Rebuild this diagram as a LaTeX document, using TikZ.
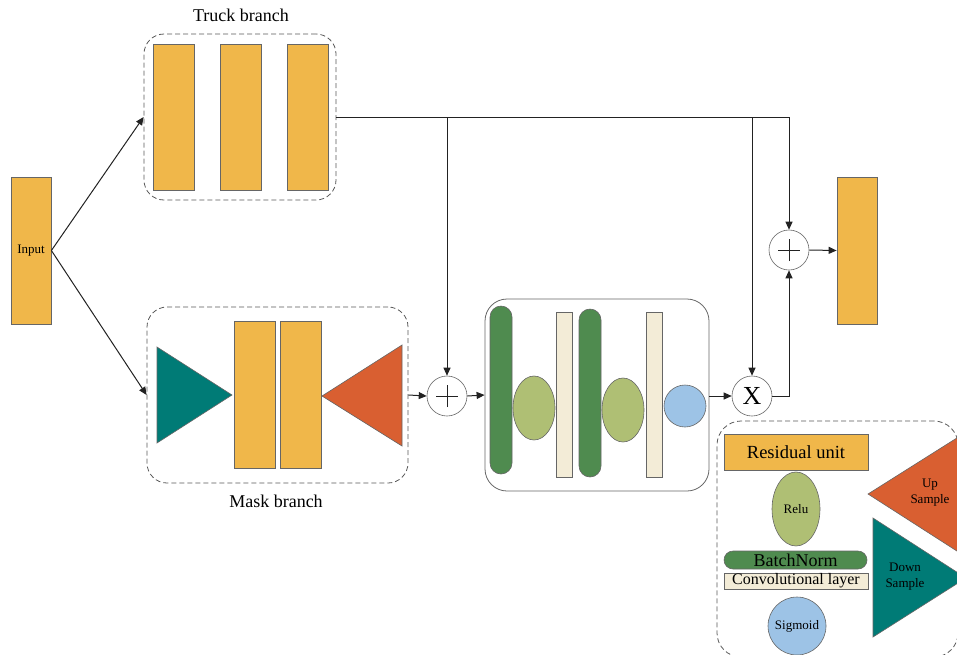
\documentclass[tikz,border=0pt]{standalone}
\usepackage{fontspec}
\setmainfont{Liberation Serif}
\usetikzlibrary{arrows.meta,shapes.geometric}
\definecolor{cOr}{HTML}{F0B74A}
\definecolor{cTeal}{HTML}{007B76}
\definecolor{cRed}{HTML}{D95F31}
\definecolor{cDG}{HTML}{4F8B4F}
\definecolor{cLG}{HTML}{AFBF74}
\definecolor{cCream}{HTML}{F3ECD7}
\definecolor{cBlue}{HTML}{9DC3E6}
\definecolor{cLine}{HTML}{222222}
\tikzset{
  bar/.style={draw=black!60, fill=cOr, inner sep=0pt, line width=0.8pt},
  dbox/.style={draw=black!65, dashed, dash pattern=on 5pt off 3pt, rounded corners=20pt, line width=0.8pt, inner sep=0pt},
  opc/.style={circle, draw=black!60, fill=white, minimum size=40pt, inner sep=0pt, line width=0.6pt},
  arr/.style={draw=cLine, line width=1pt, -{Triangle[length=8pt,width=7pt]}},
  ln/.style={draw=cLine, line width=1pt},
  shp/.style={draw=black!60, line width=0.6pt, inner sep=0pt},
}
\begin{document}
\begin{tikzpicture}[x=1pt,y=-1pt]
\useasboundingbox (0,0) rectangle (957,654);
\clip (0,0) rectangle (957,654);

% input / output
\node[bar, minimum width=40pt, minimum height=147pt, font=\fontsize{13}{14}\selectfont] (input) at (31,250.5) {Input};
\node[bar, minimum width=40pt, minimum height=147pt] (output) at (857,250.5) {};

% truck branch
\node[dbox, minimum width=192pt, minimum height=166pt] (truck) at (240,117) {};
\node[bar, minimum width=41pt, minimum height=146pt] (t1) at (173.5,117) {};
\node[bar, minimum width=41pt, minimum height=146pt] (t2) at (240.5,117) {};
\node[bar, minimum width=41pt, minimum height=146pt] (t3) at (307.5,117) {};
\node[font=\fontsize{18}{20}\selectfont] (ttitle) at (241,15) {Truck branch};

% mask branch
\node[dbox, minimum width=261pt, minimum height=176pt] (mask) at (277.5,395) {};
\fill[cTeal, draw=black!60, line width=0.6pt] (157,347) -- (232,395) -- (157,443) -- cycle;
\node[bar, minimum width=41pt, minimum height=147pt] (m1) at (254.5,394.5) {};
\node[bar, minimum width=41pt, minimum height=147pt] (m2) at (300.5,394.5) {};
\fill[cRed, draw=black!60, line width=0.6pt] (402,345) -- (322,396) -- (402,446) -- cycle;
\node[font=\fontsize{18}{20}\selectfont] (mtitle) at (276,501) {Mask branch};

% operators
\node[opc] (plus1) at (447,396) {};
\draw[ln, line width=0.9pt] ([xshift=-11pt]plus1.center) -- ([xshift=11pt]plus1.center)
      ([yshift=-11pt]plus1.center) -- ([yshift=11pt]plus1.center);
\node[opc] (plus2) at (789,250) {};
\draw[ln, line width=0.9pt] ([xshift=-11pt]plus2.center) -- ([xshift=11pt]plus2.center)
      ([yshift=-11pt]plus2.center) -- ([yshift=11pt]plus2.center);
\node[opc, font=\fontsize{26}{26}\selectfont] (xc) at (752,396) {X};

% attention module
\node[draw=black!60, rounded corners=22pt, line width=0.8pt, minimum width=224pt, minimum height=192pt, inner sep=0pt] (module) at (597,395) {};
\node[shp, fill=cDG, rounded corners=11pt, minimum width=22pt, minimum height=168pt] (bn1) at (501,390) {};
\node[shp, fill=cLG, ellipse, minimum width=42pt, minimum height=64pt] (re1) at (534,408) {};
\node[shp, fill=cCream, minimum width=16pt, minimum height=165pt] (cv1) at (564,394.5) {};
\node[shp, fill=cDG, rounded corners=11pt, minimum width=22pt, minimum height=168pt] (bn2) at (590,393) {};
\node[shp, fill=cLG, ellipse, minimum width=42pt, minimum height=64pt] (re2) at (623,410) {};
\node[shp, fill=cCream, minimum width=16pt, minimum height=165pt] (cv2) at (654,394.5) {};
\node[shp, fill=cBlue, circle, minimum size=42pt] (sg1) at (685,406) {};

% connectors
\draw[arr] (input.east) -- (truck.west);
\draw[arr] (input.east) -- (mask.west);
\draw[arr] (mask.east) -- (plus1.west);
\draw[arr] (plus1.east) -- (module.west);
\draw[arr] (module.east |- xc) -- (xc.west);
\coordinate (jA) at (truck.east -| plus1);
\coordinate (jB) at (truck.east -| xc);
\coordinate (jC) at (truck.east -| plus2);
\draw[ln] (truck.east) -- (jC);
\draw[arr] (jC) -- (plus2.north);
\draw[arr] (jA) -- (plus1.north);
\draw[arr] (jB) -- (xc.north);
\draw[arr] (xc.east) -| (plus2.south);
\draw[arr] (plus2.east) -- (output.west);

% legend
\node[dbox, rounded corners=24pt, minimum width=241pt, minimum height=236pt] (legend) at (837.5,539) {};
\node[bar, minimum width=144pt, minimum height=36pt, font=\fontsize{18.5}{20}\selectfont] (lres) at (796,452) {Residual unit};
\node[shp, fill=cLG, ellipse, minimum width=48pt, minimum height=74pt, font=\fontsize{13}{14}\selectfont] (lrelu) at (796,509) {Relu};
\node[shp, fill=cDG, rounded corners=9pt, minimum width=143pt, minimum height=18pt, font=\fontsize{18}{18}\selectfont] (lbn) at (795.5,560) {BatchNorm};
\node[shp, fill=cCream, minimum width=144pt, minimum height=16pt, font=\fontsize{16}{16}\selectfont] (lconv) at (796,581) {Convolutional layer};
\node[shp, fill=cBlue, circle, minimum size=58pt, font=\fontsize{13}{14}\selectfont] (lsig) at (797,626) {Sigmoid};
\fill[cRed, draw=black!60, line width=0.6pt] (868,494) -- (960,436) -- (960,553) -- cycle;
\node[font=\fontsize{13}{16}\selectfont, align=center] (lup) at (930,493) {Up\\Sample};
\fill[cTeal, draw=black!60, line width=0.6pt] (873,518) -- (966,578) -- (873,637) -- cycle;
\node[font=\fontsize{13}{16}\selectfont, align=center] (ldown) at (905,577) {Down\\Sample};
\end{tikzpicture}
\end{document}
